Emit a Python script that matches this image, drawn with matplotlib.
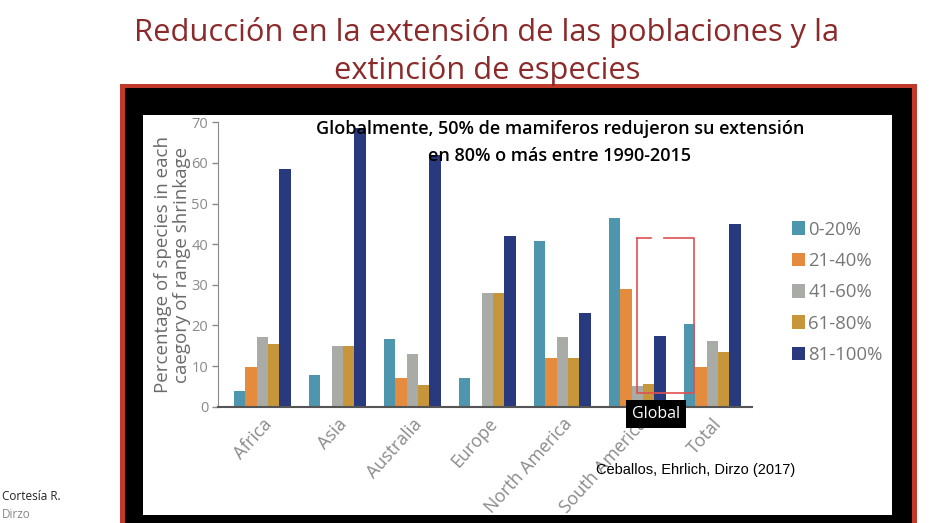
import matplotlib
matplotlib.use("Agg")
import matplotlib.pyplot as plt
from matplotlib.patches import Rectangle
from matplotlib.lines import Line2D
import numpy as np

# ---- data ----
categories = ['Africa', 'Asia', 'Australia', 'Europe', 'North America', 'South America', 'Total']
series_labels = ['0-20%', '21-40%', '41-60%', '61-80%', '81-100%']
s0_20 = [3.8, 7.7, 16.6, 7.1, 40.8, 46.4, 20.3]
s21_40 = [9.7, 0.0, 7.1, 0.0, 11.9, 28.9, 9.8]
s41_60 = [17.2, 15.0, 13.0, 28.0, 17.2, 5.0, 16.1]
s61_80 = [15.4, 15.0, 5.4, 28.0, 11.9, 5.5, 13.4]
s81_100 = [58.4, 68.5, 61.9, 41.9, 23.1, 17.5, 45.0]
yticks = [0, 10, 20, 30, 40, 50, 60, 70]
series = [s0_20, s21_40, s41_60, s61_80, s81_100]
colors = ['#4E95AE', '#E48B3E', '#A9ACA6', '#C8963A', '#28397E']

W, H = 935, 523
fig = plt.figure(figsize=(W / 100, H / 100), dpi=100)
fig.patch.set_facecolor('white')

def px_rect(x0, y0, x1, y1, **kw):
    # rectangle given in pixel coords (top-left origin)
    return Rectangle((x0 / W, 1 - y1 / H), (x1 - x0) / W, (y1 - y0) / H,
                     transform=fig.transFigure, **kw)

# slide frame
fig.patches.append(px_rect(120, 84, 917, 530, facecolor='#C0392B', edgecolor='none', zorder=-3))
fig.patches.append(px_rect(125, 88, 912, 530, facecolor='black', edgecolor='none', zorder=-2))
fig.patches.append(px_rect(143, 115, 892, 515, facecolor='white', edgecolor='none', zorder=-1))

# slide title
title_color = '#8B2A2A'
fig.text(487 / W, 1 - 32 / H, 'Reducción en la extensión de las poblaciones y la',
         ha='center', va='center', fontsize=22.2, color=title_color, family='Open Sans')
fig.text(487 / W, 1 - 70 / H, 'extinción de especies',
         ha='center', va='center', fontsize=22.2, color=title_color, family='Open Sans')

# axes
ax_left, ax_right = 218, 752
ax_bottom, ax_top = 406.7, 122.3
ax = fig.add_axes([ax_left / W, 1 - ax_bottom / H, (ax_right - ax_left) / W, (ax_bottom - ax_top) / H])
ax.set_facecolor('none')

x = np.arange(len(categories))
bw = 0.153
for j, (vals, c, lab) in enumerate(zip(series, colors, series_labels)):
    ax.bar(x + (j - 2) * bw, vals, width=bw, color=c, label=lab, zorder=2)

ax.set_xlim(-0.59, 6.53)
ax.set_ylim(0, 70)
ax.set_yticks(yticks)
ax.set_yticklabels([str(v) for v in yticks], color='#8a8a8a', fontsize=10.5, family='Open Sans')
ax.set_xticks(x)
ax.set_xticklabels(categories, rotation=48, ha='right', rotation_mode='anchor',
                   color='#8a8a8a', fontsize=12.8, family='Open Sans')
ax.tick_params(axis='x', length=0, pad=6)
ax.tick_params(axis='y', length=4, color='#8a8a8a', width=1, pad=3)
for s in ['top', 'right']:
    ax.spines[s].set_visible(False)
ax.spines['left'].set_color('#8a8a8a')
ax.spines['bottom'].set_color('#555555')
ax.spines['bottom'].set_linewidth(1.5)

ax.set_ylabel('Percentage of species in each\ncaegory of range shrinkage', color='#6a6a6a',
              fontsize=13.5, family='Open Sans', linespacing=1.08, labelpad=0)

# legend
ax.legend(loc='upper left', bbox_to_anchor=(775 / W, 1 - 204 / H), bbox_transform=fig.transFigure,
          frameon=False, labelcolor='#777777', handlelength=0.75, handleheight=0.75,
          handletextpad=0.15, labelspacing=0.72, prop={'family': 'Open Sans', 'size': 13.3})

# annotation text
fig.text(560 / W, 1 - 129 / H, 'Globalmente, 50% de mamiferos redujeron su extensión',
         ha='center', va='center', fontsize=13, color='black', family='Open Sans', weight='semibold')
fig.text(560 / W, 1 - 156 / H, 'en 80% o más entre 1990-2015',
         ha='center', va='center', fontsize=13, color='black', family='Open Sans', weight='semibold')

# red highlight box (dashed gap on top)
bx0, bx1, by0, by1 = 4.99, 5.75, 3.4, 41.5
red = '#E05050'
ax.add_line(Line2D([bx0, bx0, bx1, bx1, 5.36], [by1, by0, by0, by1, by1], color=red, lw=1.2, zorder=3, clip_on=False))
ax.add_line(Line2D([bx0, 5.18], [by1, by1], color=red, lw=1.2, zorder=3, clip_on=False))

# tooltip
fig.text(656 / W, 1 - 414 / H, 'Global', ha='center', va='center', fontsize=11.5, color='white',
         family='Open Sans', bbox=dict(boxstyle='square,pad=0.35', facecolor='black', edgecolor='none'))

# citation
fig.text(696 / W, 1 - 470 / H, 'Ceballos, Ehrlich, Dirzo (2017)', ha='center', va='center',
         fontsize=10.5, color='black', family='Liberation Sans')

# courtesy note
fig.text(2 / W, 1 - 497 / H, 'Cortesía R.', ha='left', va='center', fontsize=8.5, color='#222222',
         family='Open Sans')
fig.text(2 / W, 1 - 515 / H, 'Dirzo', ha='left', va='center', fontsize=8.5, color='#888888',
         family='Open Sans')

fig.savefig('out.png', dpi=100, facecolor='white')
